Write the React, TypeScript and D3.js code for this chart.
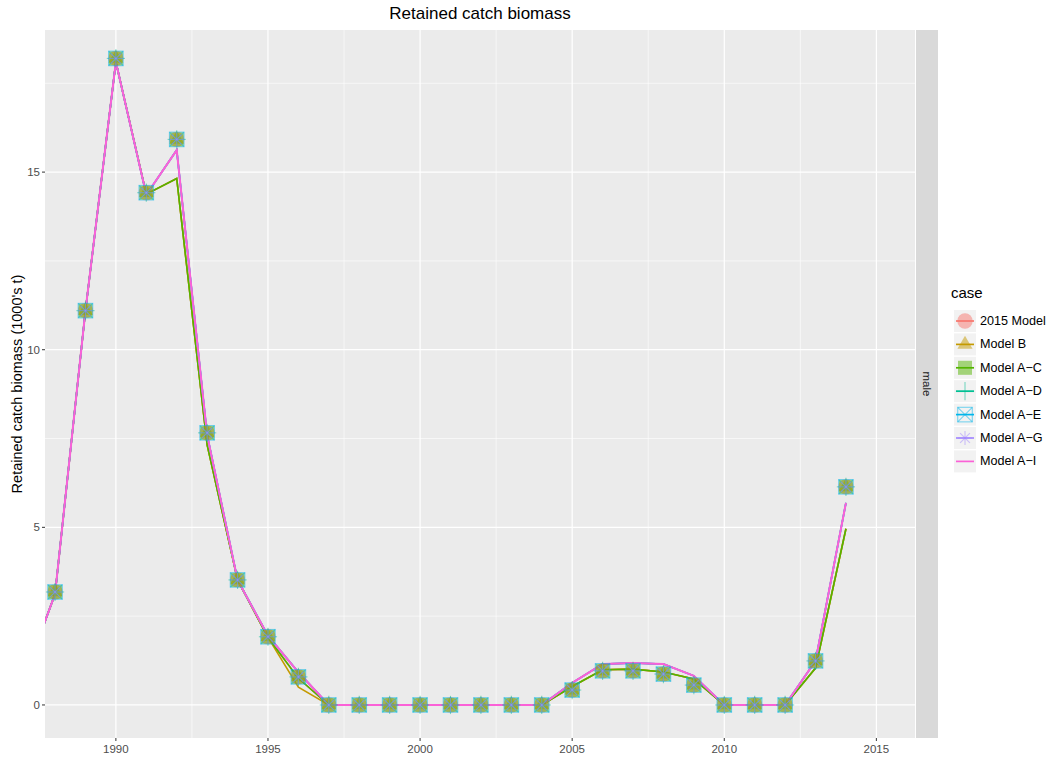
import React from "react";
import * as d3 from "d3";

// Years covered by model fits and by observed catch
const fitYears = [1987, 1988, 1989, 1990, 1991, 1992, 1993, 1994, 1995, 1996, 1997, 1998, 1999, 2000, 2001, 2002, 2003, 2004, 2005, 2006, 2007, 2008, 2009, 2010, 2011, 2012, 2013, 2014];
const obsYears = fitYears.slice(1);

// Observed retained catch (1000's t)
const observed = [3.18, 11.1, 18.2, 14.42, 15.92, 7.66, 3.52, 1.92, 0.79, 0, 0, 0, 0, 0, 0, 0, 0, 0.42, 0.96, 0.96, 0.87, 0.56, 0, 0, 0, 1.24, 6.14];

// Predicted retained catch by model case
const pred2015 = [0.8, 3.12, 11.1, 18.1, 14.38, 14.82, 7.32, 3.52, 1.9, 0.75, 0, 0, 0, 0, 0, 0, 0, 0, 0.52, 0.99, 1.01, 0.93, 0.73, 0, 0, 0, 1.04, 4.96];
const predB = [0.8, 3.12, 11.1, 18.1, 14.38, 14.82, 7.32, 3.52, 1.9, 0.5, 0, 0, 0, 0, 0, 0, 0, 0, 0.52, 0.99, 1.01, 0.93, 0.73, 0, 0, 0, 1.04, 4.96];
const predAC = [0.8, 3.12, 11.1, 18.1, 14.38, 14.82, 7.32, 3.52, 1.9, 0.75, 0, 0, 0, 0, 0, 0, 0, 0, 0.52, 0.99, 1.01, 0.93, 0.73, 0, 0, 0, 1.04, 4.96];
const predAI = [0.8, 3.12, 11.1, 18.1, 14.36, 15.62, 7.6, 3.52, 1.95, 0.92, 0, 0, 0, 0, 0, 0, 0, 0, 0.62, 1.15, 1.18, 1.15, 0.82, 0, 0, 0, 1.24, 5.69];
const predAD = predAI;
const predAE = predAI;
const predAG = predAI;

const caseNames = ["2015 Model", "Model B", "Model A\u2212C", "Model A\u2212D", "Model A\u2212E", "Model A\u2212G", "Model A\u2212I"];
const caseColors = ["#F8766D", "#C49A00", "#53B400", "#00C094", "#00B6EB", "#A58AFF", "#FB61D7"];
const caseShapes = ["circle", "triangle", "square", "plus", "boxx", "asterisk", "none"];
const casePreds = [pred2015, predB, predAC, predAD, predAE, predAG, predAI];

const xTicks = [1990, 1995, 2000, 2005, 2010, 2015];
const yTicks = [0, 5, 10, 15];

const W = 1052;
const H = 758;
const panel = { left: 45, right: 915, top: 30, bottom: 738 };

function Marker({ shape, color, x, y, s }: { shape: string; color: string; x: number; y: number; s: number }) {
  const a = 0.5;
  if (shape === "circle") return <circle cx={x} cy={y} r={s * 0.55} fill={color} fillOpacity={a} />;
  if (shape === "triangle") {
    const r = s * 0.62;
    const pts = [[x, y - r], [x + r * 0.87, y + r * 0.5], [x - r * 0.87, y + r * 0.5]].map((p) => p.join(",")).join(" ");
    return <polygon points={pts} fill={color} fillOpacity={a} />;
  }
  if (shape === "square") {
    const h = s * 0.5;
    return <rect x={x - h} y={y - h} width={2 * h} height={2 * h} fill={color} fillOpacity={a} />;
  }
  if (shape === "plus") {
    const h = s * 0.65;
    return (
      <g stroke={color} strokeOpacity={a} strokeWidth={1.1}>
        <line x1={x - h} y1={y} x2={x + h} y2={y} />
        <line x1={x} y1={y - h} x2={x} y2={y + h} />
      </g>
    );
  }
  if (shape === "boxx") {
    const h = s * 0.52;
    return (
      <g stroke={color} strokeOpacity={a} strokeWidth={1.1} fill="none">
        <rect x={x - h} y={y - h} width={2 * h} height={2 * h} />
        <line x1={x - h} y1={y - h} x2={x + h} y2={y + h} />
        <line x1={x - h} y1={y + h} x2={x + h} y2={y - h} />
      </g>
    );
  }
  if (shape === "asterisk") {
    const h = s * 0.5;
    return (
      <g stroke={color} strokeOpacity={a} strokeWidth={1.1}>
        <line x1={x - h} y1={y} x2={x + h} y2={y} />
        <line x1={x} y1={y - h} x2={x} y2={y + h} />
        <line x1={x - h * 0.7} y1={y - h * 0.7} x2={x + h * 0.7} y2={y + h * 0.7} />
        <line x1={x - h * 0.7} y1={y + h * 0.7} x2={x + h * 0.7} y2={y - h * 0.7} />
      </g>
    );
  }
  return null;
}

export default function App() {
  const x = d3.scaleLinear().domain([1987.67, 2016.27]).range([panel.left, panel.right]);
  const y = d3.scaleLinear().domain([-0.93, 19.0]).range([panel.bottom, panel.top]);

  const line = d3
    .line<number>()
    .x((_, i) => x(fitYears[i]))
    .y((d) => y(d));

  const minorX = d3.range(1987.5, 2017, 5).filter((v) => x(v) > panel.left && x(v) < panel.right);
  const minorY = [2.5, 7.5, 12.5, 17.5];

  const font = "Liberation Sans, Arial, sans-serif";
  const pw = panel.right - panel.left;
  const ph = panel.bottom - panel.top;
  const lastLine = casePreds.length - 1;

  return (
    <svg width={W} height={H} style={{ position: "absolute", left: 0, top: 0 }} fontFamily={font}>
      <rect x={0} y={0} width={W} height={H} fill="#ffffff" />
      <defs>
        <clipPath id="panelClip">
          <rect x={panel.left} y={panel.top} width={pw} height={ph} />
        </clipPath>
      </defs>
      <rect x={panel.left} y={panel.top} width={pw} height={ph} fill="#EBEBEB" />
      {minorX.map((v) => (
        <line key={"mx" + v} x1={x(v)} x2={x(v)} y1={panel.top} y2={panel.bottom} stroke="#fff" strokeWidth={0.6} />
      ))}
      {minorY.map((v) => (
        <line key={"my" + v} x1={panel.left} x2={panel.right} y1={y(v)} y2={y(v)} stroke="#fff" strokeWidth={0.6} />
      ))}
      {xTicks.map((v) => (
        <line key={"gx" + v} x1={x(v)} x2={x(v)} y1={panel.top} y2={panel.bottom} stroke="#fff" strokeWidth={1.2} />
      ))}
      {yTicks.map((v) => (
        <line key={"gy" + v} x1={panel.left} x2={panel.right} y1={y(v)} y2={y(v)} stroke="#fff" strokeWidth={1.2} />
      ))}

      <g clipPath="url(#panelClip)">
        {casePreds.map((p, k) => (
          <path key={"l" + k} d={line(p) || ""} fill="none" stroke={caseColors[k]} strokeWidth={k === lastLine ? 2 : 1.6} />
        ))}
        {caseShapes.map((sh, k) =>
          obsYears.map((yr, i) => (
            <Marker key={"p" + k + "-" + i} shape={sh} color={caseColors[k]} x={x(yr)} y={y(observed[i])} s={14} />
          ))
        )}
      </g>

      {/* facet strip */}
      <rect x={916} y={panel.top} width={22} height={ph} fill="#D9D9D9" />
      <text x={927} y={(panel.top + panel.bottom) / 2} fontSize={11.5} fill="#1A1A1A" textAnchor="middle" dominantBaseline="central" transform={`rotate(90, 927, ${(panel.top + panel.bottom) / 2})`}>
        male
      </text>

      {/* x axis */}
      {xTicks.map((v) => (
        <g key={"tx" + v}>
          <line x1={x(v)} x2={x(v)} y1={panel.bottom} y2={panel.bottom + 3} stroke="#333" strokeWidth={1} />
          <text x={x(v)} y={panel.bottom + 15} fontSize={11.5} fill="#4D4D4D" textAnchor="middle">{v}</text>
        </g>
      ))}
      {/* y axis */}
      {yTicks.map((v) => (
        <g key={"ty" + v}>
          <line x1={panel.left - 3} x2={panel.left} y1={y(v)} y2={y(v)} stroke="#333" strokeWidth={1} />
          <text x={panel.left - 5} y={y(v)} fontSize={11.5} fill="#4D4D4D" textAnchor="end" dominantBaseline="central">{v}</text>
        </g>
      ))}
      <text x={17} y={(panel.top + panel.bottom) / 2} fontSize={14.5} fill="#000" textAnchor="middle" dominantBaseline="central" transform={`rotate(-90, 17, ${(panel.top + panel.bottom) / 2})`}>
        Retained catch biomass (1000's t)
      </text>
      <text x={(panel.left + panel.right) / 2} y={19} fontSize={17} fill="#000" textAnchor="middle">
        Retained catch biomass
      </text>

      {/* legend */}
      <text x={951} y={298} fontSize={15} fill="#000">case</text>
      {caseNames.map((nm, k) => {
        const cy = 321 + k * 23.4;
        return (
          <g key={"lg" + k}>
            <rect x={954} y={cy - 11} width={22} height={22} fill="#F2F2F2" />
            <line x1={956} x2={974} y1={cy} y2={cy} stroke={caseColors[k]} strokeWidth={1.7} />
            <Marker shape={caseShapes[k]} color={caseColors[k]} x={965} y={cy} s={14} />
            <text x={980} y={cy} fontSize={12.6} fill="#000" dominantBaseline="central">{nm}</text>
          </g>
        );
      })}
    </svg>
  );
}
